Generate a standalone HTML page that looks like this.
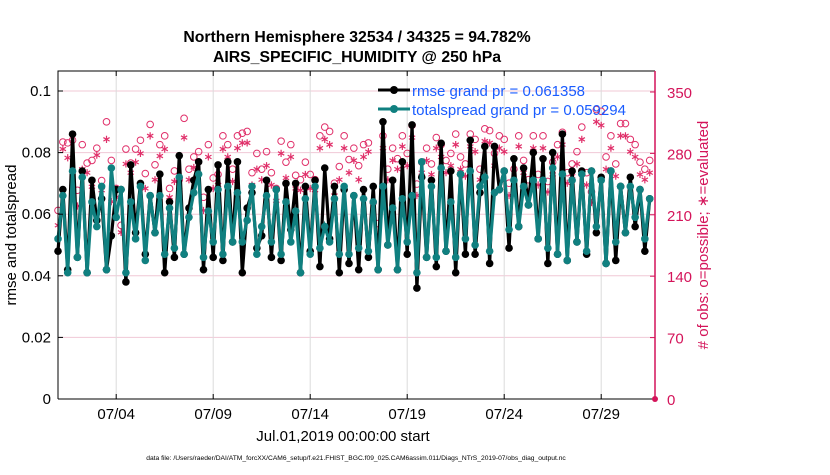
<!DOCTYPE html>
<html><head><meta charset="utf-8"><style>
body{margin:0;background:#fff;}
svg text{font-family:"Liberation Sans",Arial,sans-serif;}
</style></head><body>
<svg id="chart" width="830" height="470" xmlns="http://www.w3.org/2000/svg">
<rect width="830" height="470" fill="#fff"/>
<g id="grid"></g>
<g id="marks"></g>
<g id="axes"></g>
<text x="357" y="42" text-anchor="middle" font-size="15.8" font-weight="bold">Northern Hemisphere 32534 / 34325 = 94.782%</text>
<text x="357" y="62" text-anchor="middle" font-size="15.8" font-weight="bold">AIRS_SPECIFIC_HUMIDITY @ 250 hPa</text>
<text transform="translate(16,235) rotate(-90)" text-anchor="middle" font-size="15">rmse and totalspread</text>
<text transform="translate(708,235) rotate(-90)" text-anchor="middle" font-size="15" fill="#d4145a">#  of obs: o=possible; ∗=evaluated</text>
<text x="343" y="441" text-anchor="middle" font-size="15">Jul.01,2019 00:00:00 start</text>
<text x="356" y="460" text-anchor="middle" font-size="6.7">data file: /Users/raeder/DAI/ATM_forcXX/CAM6_setup/f.e21.FHIST_BGC.f09_025.CAM6assim.011/Diags_NTrS_2019-07/obs_diag_output.nc</text>
<g>
<line x1="378" y1="90" x2="410" y2="90" stroke="#000" stroke-width="3"/>
<circle cx="394" cy="90" r="4" fill="#000"/>
<text x="412" y="96" font-size="15" fill="#1a5cff">rmse grand pr = 0.061358</text>
<line x1="378" y1="109" x2="410" y2="109" stroke="#108080" stroke-width="3"/>
<circle cx="394" cy="109" r="4" fill="#108080"/>
<text x="412" y="115" font-size="15" fill="#1a5cff">totalspread grand pr = 0.059294</text>
</g>
</svg>
<script>
const rmse=[0.048,0.068,0.042,0.086,0.046,0.074,0.041,0.071,0.058,0.065,0.042,0.053,0.068,0.068,0.038,0.076,0.054,0.070,0.047,0.066,0.054,0.073,0.041,0.064,0.046,0.079,0.047,0.062,0.071,0.077,0.042,0.068,0.046,0.076,0.045,0.077,0.051,0.077,0.041,0.062,0.067,0.049,0.053,0.071,0.046,0.068,0.045,0.070,0.055,0.070,0.041,0.069,0.048,0.071,0.043,0.075,0.052,0.069,0.041,0.068,0.044,0.066,0.042,0.068,0.046,0.069,0.042,0.090,0.050,0.071,0.042,0.077,0.047,0.089,0.036,0.072,0.046,0.071,0.043,0.083,0.048,0.074,0.041,0.073,0.047,0.084,0.047,0.067,0.082,0.044,0.082,0.068,0.074,0.049,0.078,0.056,0.075,0.063,0.080,0.052,0.078,0.044,0.080,0.047,0.086,0.045,0.074,0.051,0.074,0.047,0.074,0.054,0.072,0.044,0.074,0.045,0.069,0.054,0.072,0.056,0.068,0.048,0.065];
const spread=[0.052,0.066,0.041,0.074,0.046,0.072,0.041,0.064,0.056,0.069,0.042,0.075,0.059,0.068,0.041,0.064,0.052,0.069,0.045,0.066,0.054,0.066,0.047,0.062,0.049,0.072,0.047,0.059,0.067,0.073,0.046,0.061,0.051,0.068,0.047,0.069,0.051,0.067,0.051,0.058,0.069,0.047,0.056,0.066,0.051,0.068,0.047,0.064,0.051,0.061,0.041,0.065,0.047,0.069,0.049,0.056,0.051,0.065,0.047,0.069,0.047,0.066,0.049,0.065,0.048,0.064,0.042,0.069,0.050,0.062,0.042,0.065,0.051,0.066,0.041,0.077,0.046,0.069,0.046,0.075,0.048,0.064,0.046,0.073,0.052,0.074,0.050,0.069,0.072,0.048,0.067,0.068,0.074,0.055,0.071,0.056,0.069,0.063,0.071,0.052,0.071,0.049,0.075,0.047,0.073,0.045,0.071,0.051,0.073,0.048,0.074,0.056,0.071,0.044,0.074,0.051,0.069,0.054,0.069,0.059,0.068,0.052,0.065];
const possible=[215,293,292,295,238,290,269,272,286,249,316,272,240,198,285,269,285,295,257,313,267,290,300,240,260,250,320,262,276,282,230,290,252,256,300,290,262,300,303,305,258,280,262,282,258,240,294,270,290,255,250,270,256,250,300,310,305,246,265,300,273,286,266,290,292,224,200,300,262,286,274,300,280,312,245,270,286,268,298,290,272,280,302,276,268,302,296,262,308,306,280,300,296,246,262,300,272,250,300,256,300,248,270,290,304,258,268,282,310,258,236,330,328,276,300,268,314,314,296,290,270,262,272];
const evaluated=[198,285,275,242,220,262,258,242,278,238,296,225,230,190,268,258,270,280,240,300,250,277,285,230,248,238,298,250,264,270,215,276,240,244,285,276,248,286,292,292,244,262,250,266,244,226,280,252,276,240,238,256,240,238,286,296,290,232,250,286,258,272,250,276,282,208,185,286,250,272,262,288,266,298,232,258,272,256,286,276,258,266,290,262,254,288,282,250,294,292,266,286,282,232,250,288,258,236,286,244,286,236,256,276,290,246,254,268,296,244,224,316,312,262,286,254,300,300,282,276,256,250,258];
const xTickLabels=["07/04","07/09","07/14","07/19","07/24","07/29"];
const xTickDays=[3,8,13,18,23,28];
const yTicks=[0,0.02,0.04,0.06,0.08,0.1];
const yTickLabels=["0","0.02","0.04","0.06","0.08","0.1"];
const rTicks=[0,70,140,210,280,350];

const NS="http://www.w3.org/2000/svg";
const X0=58,X1=655,Y0=399,Y1=71,DAYPX=19.4;
const xDay=d=>X0+d*DAYPX;
const xIdx=i=>xDay(i*0.25);
const yL=v=>Y0-v*3080;
const yR=c=>Y0-c*(307/350);
function mk(tag,attrs,parent){const e=document.createElementNS(NS,tag);for(const k in attrs)e.setAttribute(k,attrs[k]);parent.appendChild(e);return e;}
const grid=document.getElementById('grid'),marks=document.getElementById('marks'),axes=document.getElementById('axes');

yTicks.forEach((v,k)=>{
  const y=yL(v);
  if(v>0){const g=mk('line',{x1:X0,x2:X1,y1:y,y2:y,stroke:'#f0c8d6','stroke-width':1},grid);
  
  }
  const t=mk('text',{x:X0-7,y:y+5,'text-anchor':'end','font-size':15},axes);t.textContent=yTickLabels[k];
  
  
  mk('line',{x1:X0,x2:X0+5,y1:y,y2:y,stroke:'#000'},axes);
});
rTicks.forEach(c=>{
  const y=yR(c);
  const t=mk('text',{x:X1+12,y:y+6,'font-size':15,fill:'#d4145a'},axes);t.textContent=c;
  
  
  mk('line',{x1:X1-5,x2:X1,y1:y,y2:y,stroke:'#d4145a'},axes);
});
xTickDays.forEach((d,k)=>{
  const x=xDay(d);
  const g=mk('line',{x1:x,x2:x,y1:Y1,y2:Y0,stroke:'#dcdcdc'},grid);
  
  
  mk('line',{x1:x,x2:x,y1:Y0,y2:Y0-5,stroke:'#000'},axes);
  mk('line',{x1:x,x2:x,y1:Y1,y2:Y1+5,stroke:'#000'},axes);
  const t=mk('text',{x:x,y:Y0+20,'text-anchor':'middle','font-size':15},axes);t.textContent=xTickLabels[k];
  
  
});
const fr=mk('path',{d:`M${X0},${Y0}V${Y1}H${X1}M${X0},${Y0}H${X1}`,fill:'none',stroke:'#000','stroke-width':1},axes);


const ra=mk('line',{x1:X1,x2:X1,y1:Y1,y2:Y0,stroke:'#d4145a','stroke-width':1.5},axes);


const rm=mk('circle',{cx:X1,cy:Y0,r:3,fill:'#d4145a'},axes);



possible.forEach((c,i)=>{
  const e=mk('circle',{cx:xIdx(i),cy:yR(c),r:3.3,fill:'none',stroke:'#e0306a','stroke-width':1},marks);
  
  
});
evaluated.forEach((c,i)=>{
  const x=xIdx(i),y=yR(c),r=3.6,d=r*0.87,h=r*0.5;
  const e=mk('path',{d:`M${x},${y-r}V${y+r}M${x-d},${y-h}L${x+d},${y+h}M${x-d},${y+h}L${x+d},${y-h}`,stroke:'#e0306a','stroke-width':1.2,fill:'none'},marks);
  
  
});
function series(arr,color,name){
  const p=mk('polyline',{points:arr.map((v,i)=>xIdx(i)+','+yL(v)).join(' '),fill:'none',stroke:color,'stroke-width':3.2},marks);
  
  
  arr.forEach((v,i)=>{
    const c=mk('circle',{cx:xIdx(i),cy:yL(v),r:3.8,fill:color},marks);
    
    
  });
}
series(rmse,'#000','rmse');
series(spread,'#108080','totalspread');
</script>
</body></html>
